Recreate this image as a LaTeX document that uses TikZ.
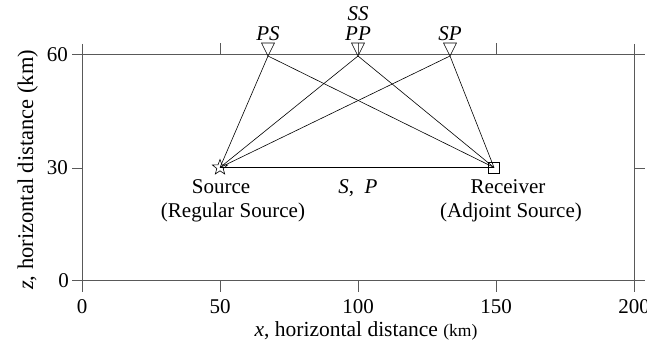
\documentclass[tikz,border=0pt]{standalone}
\usepackage{fontspec}
\setmainfont{Liberation Serif}
\usetikzlibrary{shapes.geometric}
\tikzset{
  axis/.style={draw=black!65, line width=1pt},
  ray/.style={draw=black, line width=0.6pt},
  lbl/.style={font=\fontsize{21}{24}\selectfont, inner sep=0pt, anchor=base},
}
\begin{document}
\begin{tikzpicture}[x=1pt,y=-1pt]
\useasboundingbox (0,0) rectangle (647,342);
% frame
\draw[axis] (82,44) -- (82,292);
\draw[axis] (634,44) -- (634,292);
\draw[axis] (72,55) -- (645,55);
\draw[axis] (72,280) -- (645,280);
\draw[axis] (72,168) -- (82,168);
\draw[axis] (634,168) -- (645,168);
\foreach \xx in {220,358,496}{
  \draw[axis] (\xx,55) -- (\xx,43);
  \draw[axis] (\xx,280) -- (\xx,292);
}
% tick labels
\node[lbl, anchor=base east] (t60) at (68,62) {60};
\node[lbl, anchor=base east] (t30) at (68,174) {30};
\node[lbl, anchor=base east] (t0) at (69,287) {0};
\node[lbl] (x0) at (82,313) {0};
\node[lbl] (x50) at (220,313) {50};
\node[lbl] (x100) at (358,313) {100};
\node[lbl] (x150) at (496,313) {150};
\node[lbl] (x200) at (634,313) {200};
\node[lbl, font=\fontsize{21.5}{24}\selectfont] (xlab) at (366,336) {\textit{x}, horizontal distance {\fontsize{17.5}{20}\selectfont(km)}};
\node[lbl, rotate=90, font=\fontsize{22.5}{26}\selectfont] (ylab) at (33,170) {\textit{z}, horizontal distance (km)};
% points
\coordinate (src) at (220,167.5);
\coordinate (rcv) at (494,167.5);
\coordinate (ps) at (268,56);
\coordinate (pp) at (358,56);
\coordinate (sp) at (450,56);
% rays
\draw[ray] (src) -- (rcv);
\foreach \r in {ps,pp,sp}{
  \draw[ray] (src) -- (\r);
  \draw[ray] (\r) -- (rcv);
}
% receivers at top
\foreach \r in {ps,pp,sp}{
  \draw[ray] (\r) -- ++(-6.5,-13) -- ++(13,0) -- cycle;
}
\node[star, star points=5, star point ratio=2.4, draw, line width=0.6pt, minimum size=16pt, inner sep=0pt] (star) at (src) {};
\node[draw, line width=0.7pt, minimum size=11pt, inner sep=0pt] (box) at (rcv) {};
% labels
\node[lbl] (lps) at (268,41) {\textit{PS}};
\node[lbl] (lpp) at (358,41) {\textit{PP}};
\node[lbl] (lss) at (358,21) {\textit{SS}};
\node[lbl] (lsp) at (450,41) {\textit{SP}};
\node[lbl] (lsrc) at (221,193) {Source};
\node[lbl] (lsrc2) at (233,217) {(Regular Source)};
\node[lbl] (lsp2) at (358,193) {\textit{S},\ \ \textit{P}};
\node[lbl] (lrcv) at (508,193) {Receiver};
\node[lbl] (lrcv2) at (511,217) {(Adjoint Source)};
\end{tikzpicture}
\end{document}
